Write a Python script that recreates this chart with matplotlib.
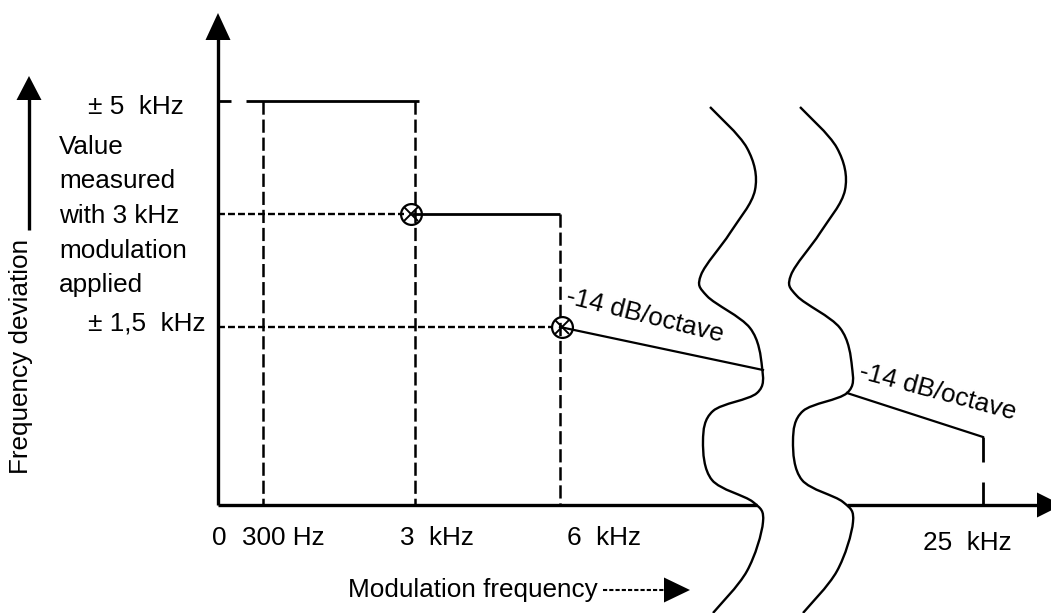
import numpy as np
import matplotlib
matplotlib.use('Agg')
import matplotlib.pyplot as plt
from matplotlib.path import Path
from matplotlib.patches import PathPatch

plt.rcParams['font.family'] = ['Liberation Sans', 'DejaVu Sans']
plt.rcParams['lines.scale_dashes'] = False

# 图上各点（像素坐标，y向下）
freq_labels = ['0', '300 Hz', '3  kHz', '6  kHz', '25  kHz']
freq_x = [218, 263, 415, 560, 983]
freq_label_x = [212, 242, 400, 567, 923]

level_labels = ['± 5  kHz', '± 1,5  kHz']
level_y = [101, 327]
measured_y = 214
measured_text = ['Value', 'measured', 'with 3 kHz', 'modulation', 'applied']

axis_y = 505
axis_x = 218

# 波浪线（断开符号）
wave_x = [710, 747, 755, 730, 701, 707, 750, 762, 757, 713, 703, 712, 753, 763, 747, 713]
wave_y = [107, 148, 190, 233, 275, 296, 328, 367, 393, 411, 441, 480, 502, 522, 571, 613]
wave_shift = [0, 90]

# -14 dB/octave 斜线
slope1 = ([560, 763], [327, 370])
slope2 = ([847, 983], [393, 437])

fig = plt.figure(figsize=(10.51, 6.13), dpi=100)
ax = fig.add_axes([0, 0, 1, 1])
ax.set_xlim(0, 1051)
ax.set_ylim(613, 0)
ax.axis('off')

fs = 18.8
k = 'black'
long_dash = (0, (9.5, 3.5))
short_dash = (0, (5, 2.2))


def tri(tip, base, half, vertical=True):
    if vertical:
        xs = [tip[0], tip[0] - half, tip[0] + half]
        ys = [tip[1], base, base]
    else:
        xs = [tip[0], base, base]
        ys = [tip[1], tip[1] - half, tip[1] + half]
    ax.fill(xs, ys, color=k, lw=0)


def smooth(xs, ys, dx):
    p = np.column_stack([np.array(xs) + dx, ys]).astype(float)
    verts = [p[0]]
    codes = [Path.MOVETO]
    n = len(p)
    for i in range(n - 1):
        p0 = p[i - 1] if i > 0 else p[i]
        p3 = p[i + 2] if i + 2 < n else p[i + 1]
        c1 = p[i] + (p[i + 1] - p0) / 6
        c2 = p[i + 1] - (p3 - p[i]) / 6
        verts += [c1, c2, p[i + 1]]
        codes += [Path.CURVE4] * 3
    return Path(verts, codes)


# 坐标轴
ax.plot([axis_x, axis_x], [axis_y, 36], color=k, lw=2.4, solid_capstyle='butt')
tri((axis_x, 13), 40, 12.5)
ax.plot([axis_x, 757], [axis_y, axis_y], color=k, lw=2.4, solid_capstyle='butt')
ax.plot([847, 1040], [axis_y, axis_y], color=k, lw=2.4, solid_capstyle='butt')
tri((1062, axis_y), 1037, 12.5, vertical=False)

# ±5 kHz 水平线
ax.plot([axis_x, 231], [level_y[0]] * 2, color=k, lw=2, solid_capstyle='butt')
ax.plot([246, 419], [level_y[0]] * 2, color=k, lw=2, solid_capstyle='butt')

# 测量值水平线
ax.plot([axis_x, 404], [measured_y] * 2, color=k, lw=1.7, ls=short_dash)
ax.plot([412, 560], [measured_y] * 2, color=k, lw=2, solid_capstyle='butt')

# ±1,5 kHz 虚线
ax.plot([axis_x, 553], [level_y[1]] * 2, color=k, lw=1.7, ls=short_dash)

# 竖虚线
ax.plot([freq_x[1]] * 2, [level_y[0], axis_y], color=k, lw=1.8, ls=long_dash)
ax.plot([freq_x[2]] * 2, [level_y[0], axis_y], color=k, lw=1.8, ls=long_dash)
ax.plot([freq_x[3]] * 2, [measured_y, axis_y], color=k, lw=1.8, ls=long_dash)
ax.plot([freq_x[4]] * 2, [437, 462], color=k, lw=2, solid_capstyle='butt')
ax.plot([freq_x[4]] * 2, [482, axis_y], color=k, lw=2, solid_capstyle='butt')

# 斜线
ax.plot(*slope1, color=k, lw=1.6)
ax.plot(*slope2, color=k, lw=1.6)

# 标记点
for mx, my in [(411, measured_y), (562, level_y[1])]:
    ax.plot(mx, my, 'o', ms=15, mfc='none', mec=k, mew=1.6)
    ax.plot(mx, my, 'x', ms=9.5, mec=k, mew=1.4)

# 波浪线
for dx in wave_shift:
    ax.add_patch(PathPatch(smooth(wave_x, wave_y, dx), fc='none', ec=k, lw=1.7))

# 文字
ax.text(184, level_y[0] + 6, level_labels[0], ha='right', va='center', fontsize=fs)
ax.text(205, level_y[1] - 3, level_labels[1], ha='right', va='center', fontsize=fs)
for i, s in enumerate(measured_text):
    ax.text(59, 147 + i * 34.5, s, ha='left', va='center', fontsize=fs)

for lx, s in zip(freq_label_x, freq_labels):
    y = 543 if s.startswith('25') else 538
    ax.text(lx, y, s, ha='left', va='center', fontsize=fs)

ax.text(348, 590, 'Modulation frequency', ha='left', va='center', fontsize=fs)
ax.plot([603, 664], [590, 590], color=k, lw=1.5, ls=(0, (3, 1.5)))
tri((690, 590), 664, 12.5, vertical=False)

ax.text(21, 356, 'Frequency deviation', ha='center', va='center', rotation=90, fontsize=fs)
ax.plot([29, 29], [230, 98], color=k, lw=2.4, solid_capstyle='butt')
tri((29, 76), 100, 12.5)

ax.text(645, 316, '-14 dB/octave', ha='center', va='center', rotation=-14, fontsize=fs)
ax.text(938, 392, '-14 dB/octave', ha='center', va='center', rotation=-15, fontsize=fs)

plt.savefig('out.png', dpi=100)
